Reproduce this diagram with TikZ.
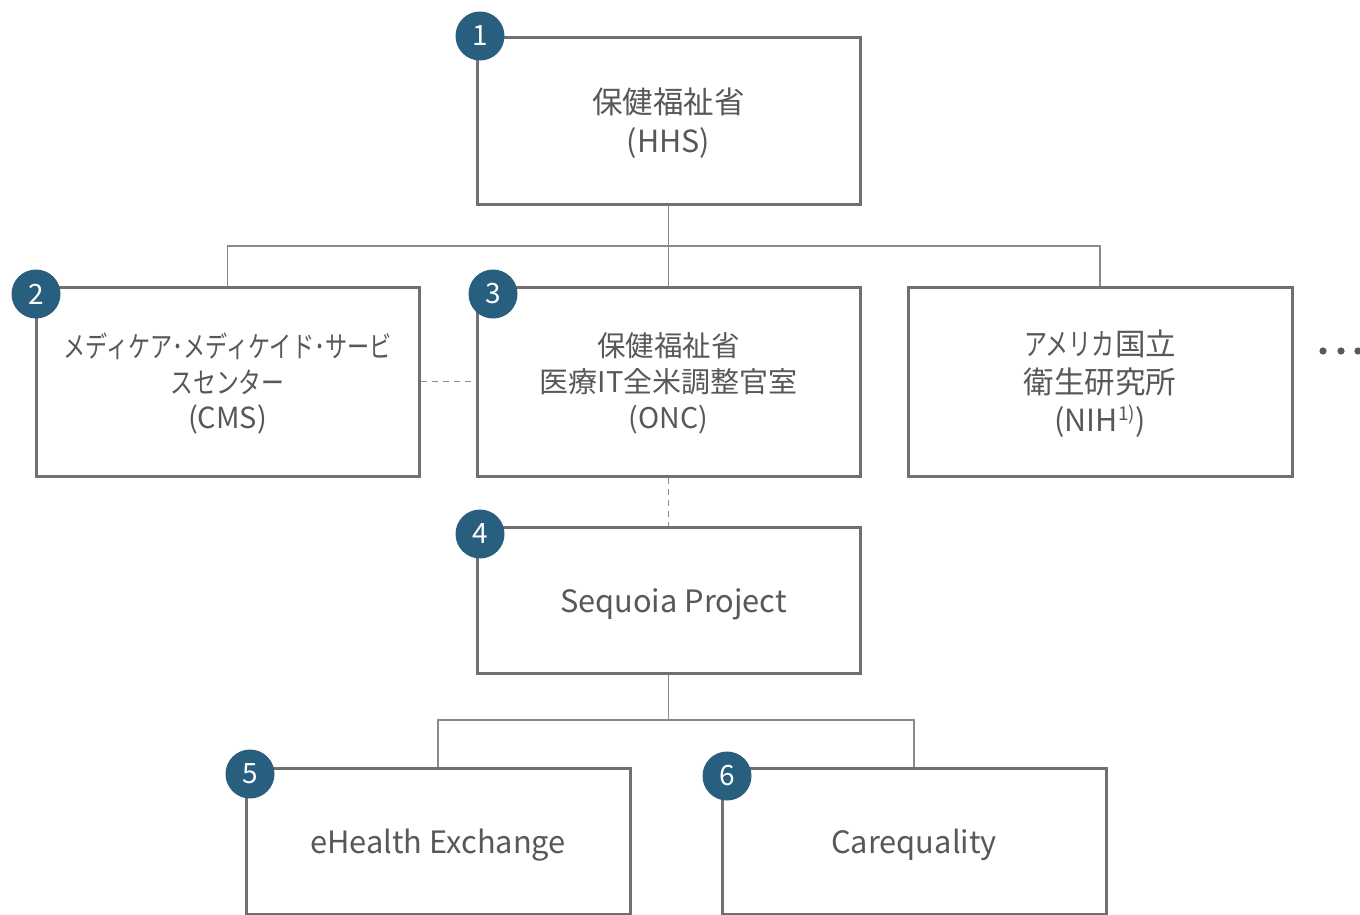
\documentclass[tikz,border=0pt]{standalone}
\usepackage{fontspec}
\usepackage{graphicx}
\setmainfont{Noto Sans CJK JP}
\definecolor{boxgray}{RGB}{112,112,114}
\definecolor{linegray}{RGB}{138,138,140}
\definecolor{txtgray}{RGB}{88,88,90}
\definecolor{badge}{RGB}{40,94,126}
\newcommand\hfit[2]{\resizebox{#1}{\height}{#2}}
\tikzset{
  orgbox/.style={draw=boxgray, line width=3pt, fill=white, inner sep=0pt},
  boxtext/.style={align=center, text=txtgray, inner sep=0pt},
  badgenode/.style={circle, fill=badge, draw=none, minimum size=49pt, inner sep=0pt,
    text=white, font=\fontsize{28}{30}\selectfont},
  conn/.style={draw=linegray, line width=1.6pt},
  dashconn/.style={draw=linegray, line width=1.4pt, dash pattern=on 6pt off 5pt},
}
\begin{document}
\begin{tikzpicture}[x=1pt,y=-1pt]
\useasboundingbox (0,0) rectangle (1360,914);
\fill[white] (0,0) rectangle (1360,914);

\node[orgbox, minimum width=383pt, minimum height=167pt] (hhs) at (668.5,120.5) {};
\node[orgbox, minimum width=383pt, minimum height=189pt] (cms) at (227.5,381.5) {};
\node[orgbox, minimum width=383pt, minimum height=189pt] (onc) at (668.5,381.5) {};
\node[orgbox, minimum width=384pt, minimum height=189pt] (nih) at (1100,381.5) {};
\node[orgbox, minimum width=383pt, minimum height=146pt] (seq) at (668.5,600) {};
\node[orgbox, minimum width=384pt, minimum height=146pt] (ehx) at (438,841) {};
\node[orgbox, minimum width=384pt, minimum height=146pt] (cq) at (914,841) {};

\node[boxtext, font=\fontsize{30.5}{39}\selectfont, yshift=-3pt] (hhs-t) at (hhs.center) {保健福祉省\\(HHS)};
\node[boxtext, font=\fontsize{29}{35.5}\selectfont, yshift=-2pt] (cms-t) at (cms.center)
  {\hfit{328pt}{メディケア･メディケイド･サービ}\\\hfit{114pt}{スセンター}\\(CMS)};
\node[boxtext, font=\fontsize{28.5}{36}\selectfont, yshift=-2pt] (onc-t) at (onc.center)
  {保健福祉省\\\hfit{258pt}{医療IT全米調整官室}\\(ONC)};
\node[boxtext, font=\fontsize{30.5}{38}\selectfont, yshift=-2pt] (nih-t) at (nih.center)
  {\hfit{91pt}{アメリカ}国立\\衛生研究所\\(NIH\raisebox{0.36em}{\fontsize{19}{19}\selectfont 1)})};
\node[boxtext, font=\fontsize{30.8}{36}\selectfont, yshift=-4pt, xshift=5pt] (seq-t) at (seq.center) {Sequoia Project};
\node[boxtext, font=\fontsize{30.8}{36}\selectfont, yshift=-4pt] (ehx-t) at (ehx.center) {eHealth Exchange};
\node[boxtext, font=\fontsize{30.8}{36}\selectfont, yshift=-4pt] (cq-t) at (cq.center) {Carequality};

\coordinate (j1) at (668.5,246);
\coordinate (j2) at (668.5,720);
\draw[conn] (hhs.south) -- (j1);
\draw[conn] (j1) -| (cms.north);
\draw[conn] (j1) -- (onc.north);
\draw[conn] (j1) -| (nih.north);
\draw[dashconn] (cms.east) -- (onc.west);
\draw[dashconn] (onc.south) -- (seq.north);
\draw[conn] (seq.south) -- (j2);
\draw[conn] (j2) -| (ehx.north);
\draw[conn] (j2) -| (cq.north);

\node[badgenode] (b1) at (480,36) {1};
\node[badgenode] (b2) at (36,294) {2};
\node[badgenode] (b3) at (493,294) {3};
\node[badgenode] (b4) at (480,534) {4};
\node[badgenode] (b5) at (250,774) {5};
\node[badgenode] (b6) at (727,776) {6};

\fill[txtgray] (1323,351) circle (3.6pt);
\fill[txtgray] (1341,351) circle (3.6pt);
\fill[txtgray] (1358,351) circle (3.6pt);
\end{tikzpicture}
\end{document}
